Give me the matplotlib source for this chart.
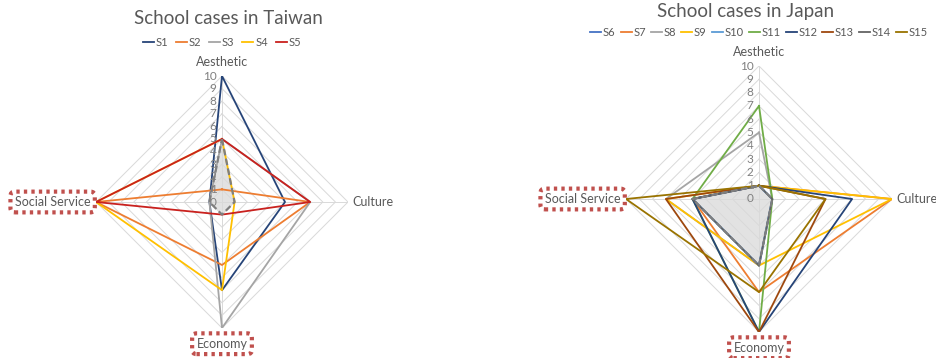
import numpy as np
import matplotlib.pyplot as plt

plt.rcParams['font.family'] = ['Lato', 'DejaVu Sans']

categories = ["Aesthetic", "Culture", "Economy", "Social Service"]
boxed = ["Economy", "Social Service"]
ticks = list(range(0, 11))

# Taiwan schools (Aesthetic, Culture, Economy, Social Service)
tw_names = ["S1", "S2", "S3", "S4", "S5"]
tw_values = [
    [10, 5, 7, 1],
    [1, 7, 5, 10],
    [5, 7, 10, 1],
    [5, 1, 7, 10],
    [5, 7, 1, 10],
]
tw_colors = ["#264478", "#ED7D31", "#A5A5A5", "#FFC000", "#C9211E"]
tw_base = [5, 1, 1, 1]

# Japan schools
jp_names = ["S6", "S7", "S8", "S9", "S10", "S11", "S12", "S13", "S14", "S15"]
jp_values = [
    [1, 1, 5, 5],
    [1, 10, 7, 5],
    [5, 1, 5, 7],
    [1, 10, 5, 7],
    [1, 1, 5, 5],
    [7, 1, 10, 5],
    [1, 7, 10, 5],
    [1, 5, 10, 7],
    [1, 1, 5, 5],
    [1, 5, 7, 10],
]
jp_colors = ["#4472C4", "#ED7D31", "#A5A5A5", "#FFC000", "#5B9BD5",
             "#70AD47", "#264478", "#9E480E", "#636363", "#997300"]
jp_base = [1, 1, 5, 5]

TXT = "#595959"
GRID = "#D9D9D9"
BOX = "#C0504D"


def closed(vals):
    return list(vals) + [vals[0]]


def radar(fig, rect, title, names, values, colors, base,
          title_pos, legend_pos, colspace):
    ax = fig.add_axes(rect, projection="polar")
    ax.set_theta_zero_location("N")
    ax.set_theta_direction(-1)
    ax.set_ylim(0, 10)
    ax.grid(False)
    ax.spines["polar"].set_visible(False)
    ax.set_xticks([])
    ax.set_yticks([])
    ax.patch.set_alpha(0)

    theta = np.linspace(0, 2 * np.pi, len(categories), endpoint=False)
    th = closed(list(theta))

    for k in ticks[1:]:
        ax.plot(th, [k] * len(th), color=GRID, lw=0.7, zorder=1)
    for t in theta:
        ax.plot([t, t], [0, 10], color=GRID, lw=0.7, zorder=1)

    ax.fill(th, closed(base), color="#D9D9D9", alpha=0.75, zorder=2, lw=0)

    handles = []
    for name, vals, c in zip(names, values, colors):
        h, = ax.plot(th, closed(vals), color=c, lw=1.3, label=name, zorder=3)
        handles.append(h)
    ax.plot(th, closed(base), color="#7F7F7F", lw=1.6, ls=(0, (3, 1.5)), zorder=4)

    for k in ticks:
        ax.annotate(str(k), xy=(0, k), xytext=(-4, 0), textcoords="offset points",
                    ha="right", va="center", fontsize=8.5, color="#7F7F7F")

    offsets = [(0, 6, "center", "bottom"), (3, 0, "left", "center"),
               (0, -7, "center", "top"), (-4, 0, "right", "center")]
    for t, name, (dx, dy, ha, va) in zip(theta, categories, offsets):
        kw = {}
        if name in boxed:
            kw["bbox"] = dict(boxstyle="round,pad=0.35", fc="white", ec=BOX,
                              lw=3, ls=(0, (0.8, 1)))
        ax.annotate(name, xy=(t, 10), xytext=(dx, dy), textcoords="offset points",
                    ha=ha, va=va, fontsize=9, color=TXT, **kw)

    fig.text(title_pos[0], title_pos[1], title, ha="center", va="center",
             fontsize=13.5, color=TXT)
    fig.legend(handles=handles, loc="center", bbox_to_anchor=legend_pos,
               ncol=len(names), frameon=False, fontsize=8, handlelength=1.0,
               handletextpad=0.15, columnspacing=colspace, labelcolor=TXT)
    return ax


fig = plt.figure(figsize=(9.36, 3.58), dpi=100)
W, H = 936, 358

cx, cy, r = 222, 202, 126
radar(fig, [(cx - r) / W, (H - cy - r) / H, 2 * r / W, 2 * r / H],
      "School cases in Taiwan", tw_names, tw_values, tw_colors, tw_base,
      (228 / W, 1 - 18 / H), (222 / W, 1 - 42 / H), 0.7)

cx, cy, r = 759, 199, 133
radar(fig, [(cx - r) / W, (H - cy - r) / H, 2 * r / W, 2 * r / H],
      "School cases in Japan", jp_names, jp_values, jp_colors, jp_base,
      (746 / W, 1 - 12 / H), (759 / W, 1 - 32 / H), 0.45)

fig.savefig("out.png", dpi=100)
